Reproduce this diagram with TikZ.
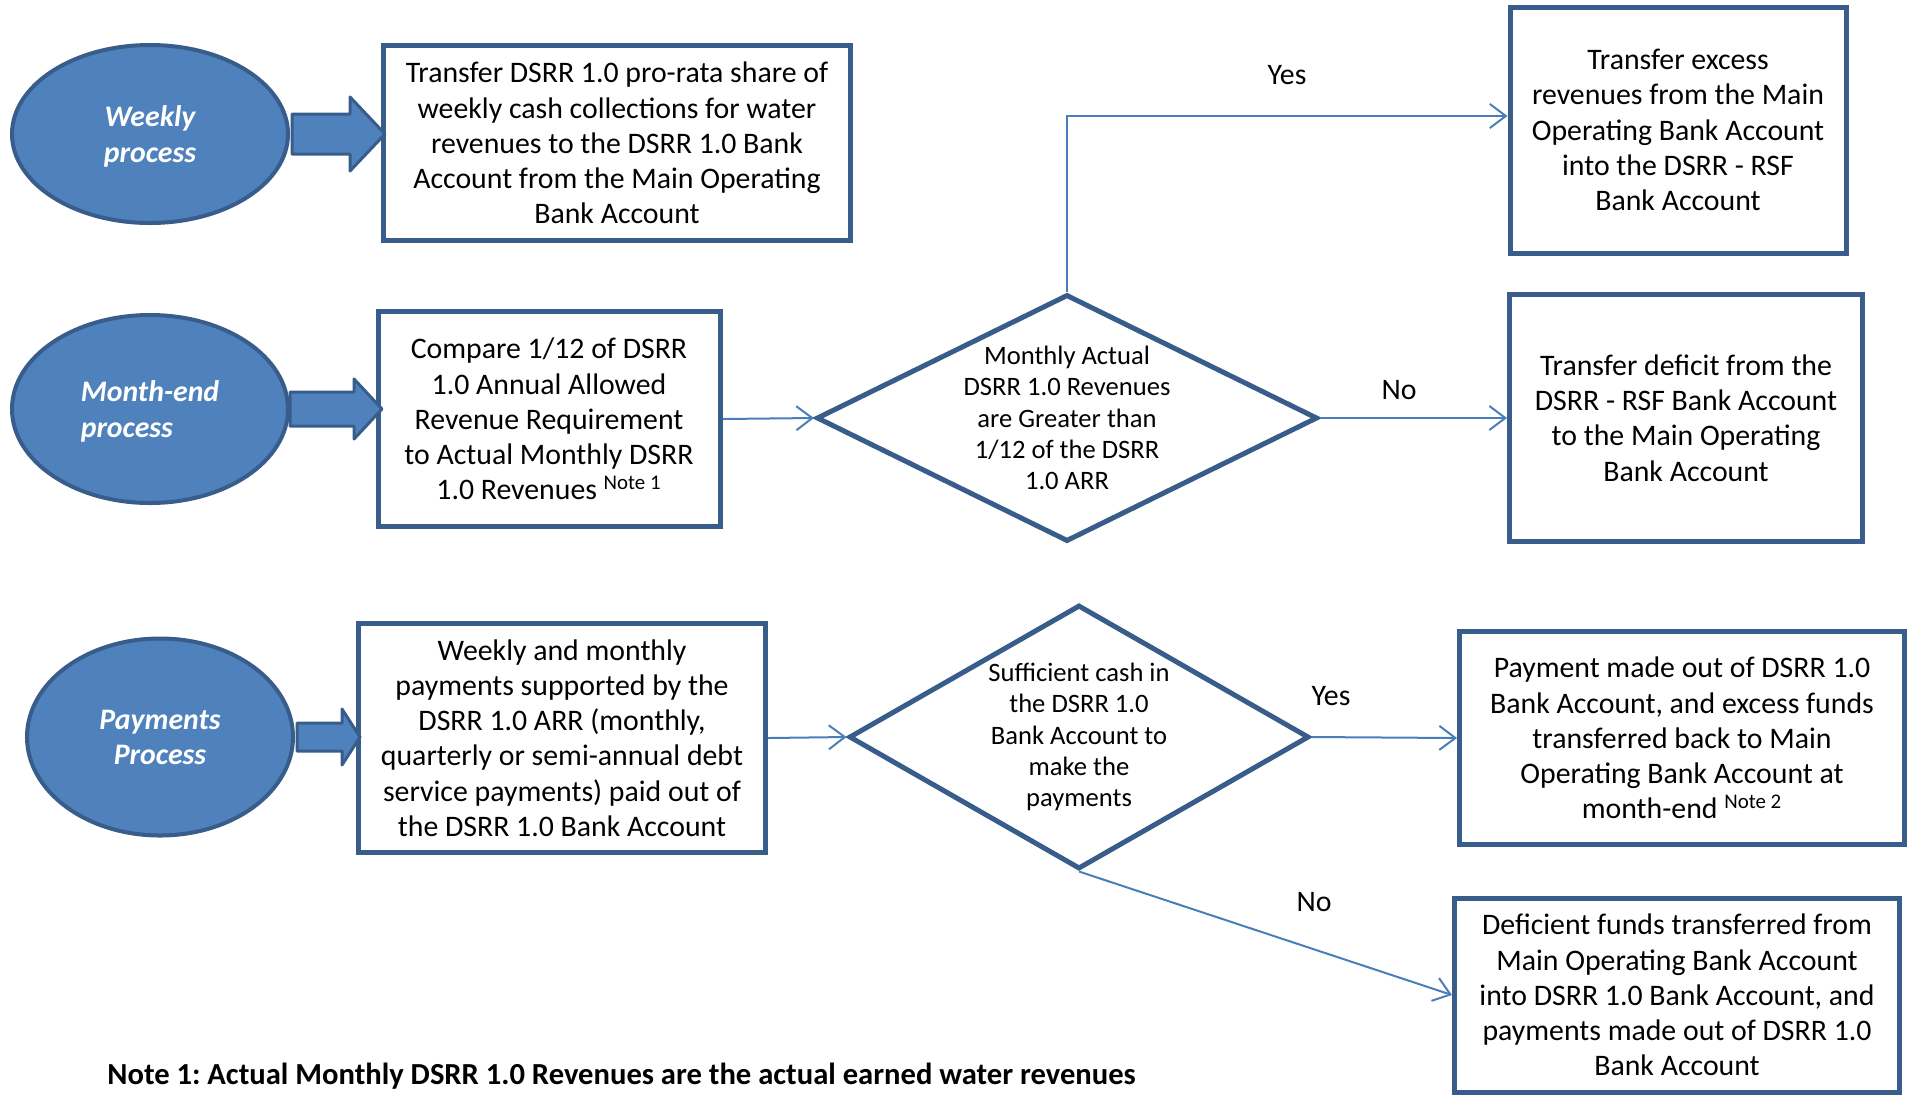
\documentclass[tikz,border=0pt]{standalone}
\usepackage{fontspec}
\setmainfont{Carlito}
\usetikzlibrary{shapes.geometric, arrows.meta}
\definecolor{procfill}{HTML}{4F81BD}
\definecolor{procline}{HTML}{385D8A}
\definecolor{flowline}{HTML}{4A7EBB}
\frenchspacing
\tikzset{
	procell/.style={ellipse, draw=procline, line width=2pt, fill=procfill, text=white, inner sep=0pt, text depth=0pt, font=\fontsize{14.9}{17.6}\selectfont\bfseries\itshape},
	stepbox/.style={rectangle, draw=procline, line width=2.5pt, align=center, inner sep=0pt, font=\fontsize{14.9}{17.6}\selectfont},
	choice/.style={diamond, draw=procline, line width=2.5pt, align=center, inner sep=-6pt, font=\fontsize{13.3}{15.7}\selectfont},
	bigarrow/.style={draw=procline, line width=1.5pt, fill=procfill, line join=round},
	flow/.style={draw=flowline, line width=1pt, -{Straight Barb[length=8pt, width=12pt]}},
	answer/.style={inner sep=0pt, font=\fontsize{14.9}{17.6}\selectfont}
}
\begin{document}
\begin{tikzpicture}[x=0.5pt, y=-0.5pt]
	\useasboundingbox (0,0) rectangle (1909,1094);
	\node (e1) at (150,134)[procell, minimum width=138pt, minimum height=89pt, align=center]{Weekly\\process};
	\node (e2) at (150,409)[procell, minimum width=138pt, minimum height=94pt, align=left]{Month-end\\process};
	\node (e3) at (160,737)[procell, minimum width=133pt, minimum height=98.5pt, align=center]{Payments\\Process};
	\node (b1) at (617,143)[stepbox, minimum width=233.5pt, minimum height=97.5pt]{Transfer DSRR 1.0 pro-rata share of\\weekly cash collections for water\\revenues to the DSRR 1.0 Bank\\Account from the Main Operating\\Bank Account};
	\node (b2) at (549,419)[stepbox, minimum width=171pt, minimum height=107.5pt]{Compare 1/12 of DSRR\\1.0 Annual Allowed\\Revenue Requirement\\to Actual Monthly DSRR\\1.0 Revenues \textsuperscript{Note 1}};
	\node (b3) at (1678,130)[stepbox, minimum width=168pt, minimum height=123pt]{Transfer excess\\revenues from the Main\\Operating Bank Account\\into the DSRR - RSF\\Bank Account};
	\node (b4) at (1686,418)[stepbox, minimum width=176.5pt, minimum height=123.5pt]{Transfer deficit from the\\DSRR - RSF Bank Account\\to the Main Operating\\Bank Account};
	\node (b5) at (562,738)[stepbox, minimum width=203.5pt, minimum height=114.5pt]{Weekly and monthly\\payments supported by the\\DSRR 1.0 ARR (monthly,\\quarterly or semi-annual debt\\service payments) paid out of\\the DSRR 1.0 Bank Account};
	\node (b6) at (1682,738)[stepbox, minimum width=222.5pt, minimum height=106.5pt]{Payment made out of DSRR 1.0\\Bank Account, and excess funds\\transferred back to Main\\Operating Bank Account at\\month-end \textsuperscript{Note 2}};
	\node (b7) at (1677,995)[stepbox, minimum width=222.5pt, minimum height=97pt]{Deficient funds transferred from\\Main Operating Bank Account\\into DSRR 1.0 Bank Account, and\\payments made out of DSRR 1.0\\Bank Account};
	\node (d1) at (1067,418)[choice, aspect=2, minimum width=250.5pt, minimum height=123.5pt]{Monthly Actual\\DSRR 1.0 Revenues\\are Greater than\\1/12 of the DSRR\\1.0 ARR};
	\node (d2) at (1079,737)[choice, aspect=1.75, minimum width=230pt, minimum height=132pt]{Sufficient cash in\\the DSRR 1.0\\Bank Account to\\make the\\payments};
	\draw[bigarrow] (e1.east) ++(2,-20) -- ++(58,0) -- ++(0,-17) -- ++(35,37) -- ++(-35,37) -- ++(0,-17) -- ++(-58,0) -- cycle;
	\draw[bigarrow] (e2.east) ++(0,-17) -- ++(64,0) -- ++(0,-13) -- ++(28,30) -- ++(-28,30) -- ++(0,-13) -- ++(-64,0) -- cycle;
	\draw[bigarrow] (e3.east) ++(2,-14) -- ++(45,0) -- ++(0,-14) -- ++(18,28) -- ++(-18,28) -- ++(0,-14) -- ++(-45,0) -- cycle;
	\draw[flow] (b2.east) -- (d1.west);
	\draw[flow] (d1.north) |- ([yshift=7pt]b3.west);
	\draw[flow] (d1.east) -- (b4.west);
	\draw[flow] (b5.east) -- (d2.west);
	\draw[flow] (d2.east) -- (b6.west);
	\draw[flow] (d2.south) -- (b7.west);
	\node (l1) at (1287,75)[answer]{Yes};
	\node (l2) at (1399,390)[answer]{No};
	\node (l3) at (1331,696)[answer]{Yes};
	\node (l4) at (1314,902)[answer]{No};
	\node (n1) at (107,1076)[anchor=west, inner sep=0pt, font=\fontsize{15.3}{18}\selectfont\bfseries]{Note 1: Actual Monthly DSRR 1.0 Revenues are the actual earned water revenues};
\end{tikzpicture}
\end{document}
